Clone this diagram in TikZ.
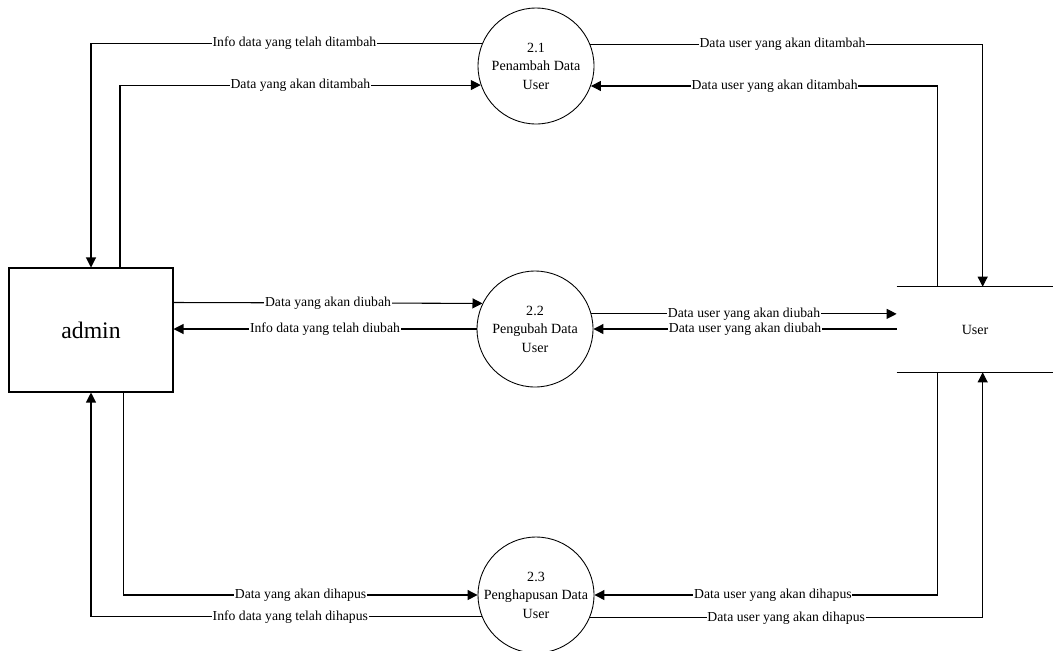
\documentclass[tikz,border=0pt]{standalone}
\usepackage{fontspec}
\setmainfont{Liberation Serif}
\usetikzlibrary{arrows.meta,calc}
\begin{document}
\begin{tikzpicture}[x=0.02cm,y=-0.02cm,
  flow/.style={draw=black,line width=0.6pt,-{Triangle[length=0.2cm,width=0.2cm]}},
  lbl/.style={fill=white,inner xsep=0.4pt,inner ysep=0.6pt,font=\fontsize{7.8}{9}\selectfont},
  proc/.style={draw=black,line width=0.5pt,circle,minimum size=2.32cm,inner sep=0pt,align=center,font=\fontsize{8}{10.5}\selectfont},
  entity/.style={draw=black,line width=0.6pt,minimum width=3.28cm,minimum height=2.48cm,inner sep=0pt,font=\fontsize{13.5}{16}\selectfont},
  store/.style={minimum width=3.12cm,minimum height=1.7cm,inner sep=0pt,font=\fontsize{8}{10}\selectfont}]
\useasboundingbox[fill=white] (0,0) rectangle (1053,650);

\node[entity] (admin) at (91,330) {admin};
\node[store] (user) at (975,329.5) {User};
\draw[line width=0.6pt] (user.north west) -- (user.north east);
\draw[line width=0.6pt] (user.south west) -- (user.south east);

\node[proc] (c21) at (536,66) {2.1\\Penambah Data\\User};
\node[proc] (c22) at (535,329) {2.2\\Pengubah Data\\User};
\node[proc] (c23) at (536,595) {2.3\\Penghapusan Data\\User};

% 2.1
\draw[flow] (c21.157.7) -| node[lbl,pos=0.24]{Info data yang telah ditambah} (admin.north);
\draw[flow] ($(admin.north)+(29,0)$) |- node[lbl,pos=0.75]{Data yang akan ditambah} (c21.199.1);
\draw[flow] (c21.22.3) -| node[lbl,pos=0.245]{Data user yang akan ditambah} ($(user.north west)+(86,0)$);
\draw[flow] ($(user.north west)+(41,0)$) |- node[lbl,pos=0.735]{Data user yang akan ditambah} (c21.340.9);

% 2.2
\draw[flow] ($(admin.north east)+(0,35)$) -- node[lbl]{Data yang akan diubah} (c22.154.5);
\draw[flow] (c22.west) -- node[lbl]{Info data yang telah diubah} (admin.east |- c22.west);
\draw[flow] (c22.15) -- node[lbl]{Data user yang akan diubah} (user.west |- c22.15);
\draw[flow] (user.west |- c22.east) -- node[lbl]{Data user yang akan diubah} (c22.east);

% 2.3
\draw[flow] ($(admin.south west)+(115,0)$) |- node[lbl,pos=0.75]{Data yang akan dihapus} (c23.west);
\draw[flow] (c23.202.3) -| node[lbl,pos=0.245]{Info data yang telah dihapus} (admin.south);
\draw[flow] ($(user.south west)+(41,0)$) |- node[lbl,pos=0.74]{Data user yang akan dihapus} (c23.east);
\draw[flow] (c23.337.7) -| node[lbl,pos=0.25]{Data user yang akan dihapus} ($(user.south west)+(86,0)$);
\end{tikzpicture}
\end{document}
